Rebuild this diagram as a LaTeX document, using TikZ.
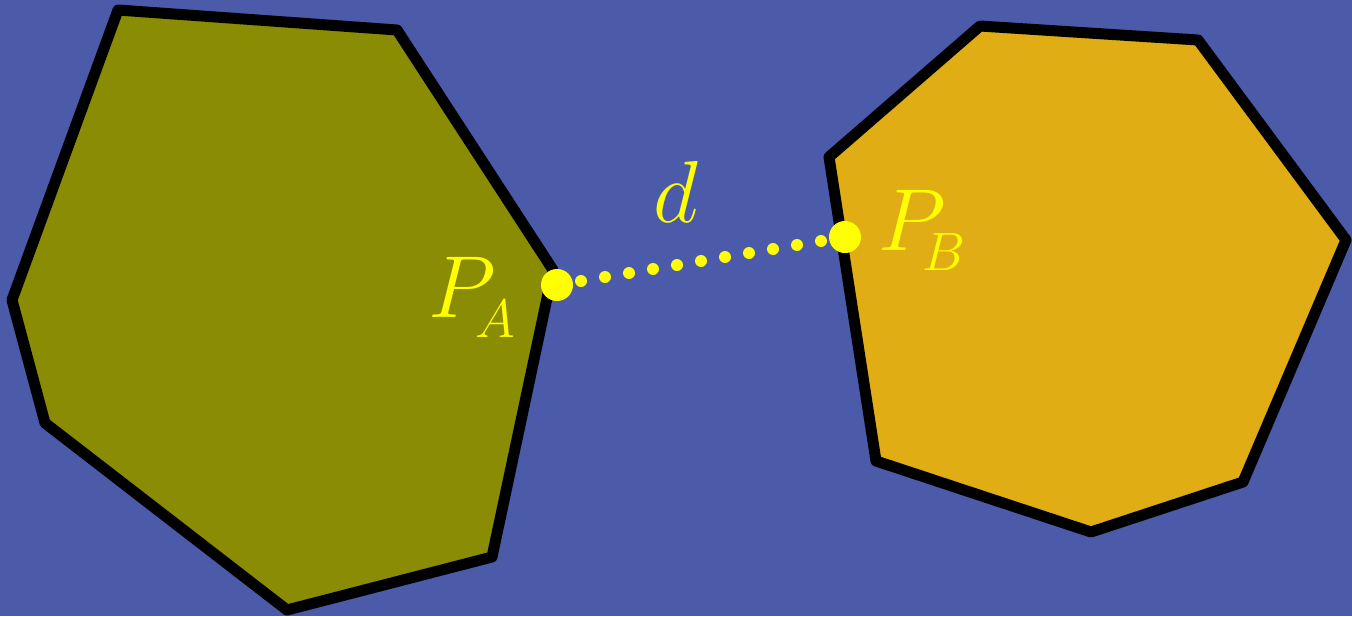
\RequirePackage{fix-cm}
\documentclass[tikz,border=0pt]{standalone}
\usetikzlibrary{calc}
\definecolor{bg}{RGB}{76,90,170}
\definecolor{olive}{RGB}{138,140,4}
\definecolor{gold}{RGB}{224,173,21}
\definecolor{yel}{RGB}{255,255,0}
\newcommand{\subsc}[1]{\raisebox{-20pt}{\fontsize{54}{56}\selectfont$#1$}}
\tikzset{
  poly/.style={draw=black,line width=11pt,line join=round},
  bigdot/.style={circle,fill=yel,inner sep=0pt,minimum size=32pt},
  smalldot/.style={circle,fill=yel,inner sep=0pt,minimum size=12pt},
  lab/.style={text=yel,inner sep=0pt,anchor=base west,font=\fontsize{88}{90}\selectfont}
}
\begin{document}
\begin{tikzpicture}[x=1pt,y=-1pt]
\useasboundingbox (0,0) rectangle (1352,616);
\clip (0,0) rectangle (1352,616);
\fill[bg] (0,0) rectangle (1352,616);
\draw[poly,fill=olive] (118,10) -- (397,30) -- (553,270) -- (492,557) -- (287,610) -- (45,423) -- (12,300) -- cycle;
\draw[poly,fill=gold] (980,26) -- (1198,40) -- (1346,240) -- (1243,482) -- (1091,532) -- (876,461) -- (829,157) -- cycle;
\node[bigdot] (pa) at (557,285) {};
\node[bigdot] (pb) at (845,237) {};
\foreach \k in {1,...,11}{
  \node[smalldot] (s\k) at ($(pa.center)!\k/12!(pb.center)$) {};
}
\node[lab] (la) at (428,317) {$P$\kern-20.5pt\subsc{A}};
\node[lab] (lb) at (878,250) {$P$\kern-23pt\subsc{B}};
\node[lab] (ld) at (653,222) {$d$};
\end{tikzpicture}
\end{document}
